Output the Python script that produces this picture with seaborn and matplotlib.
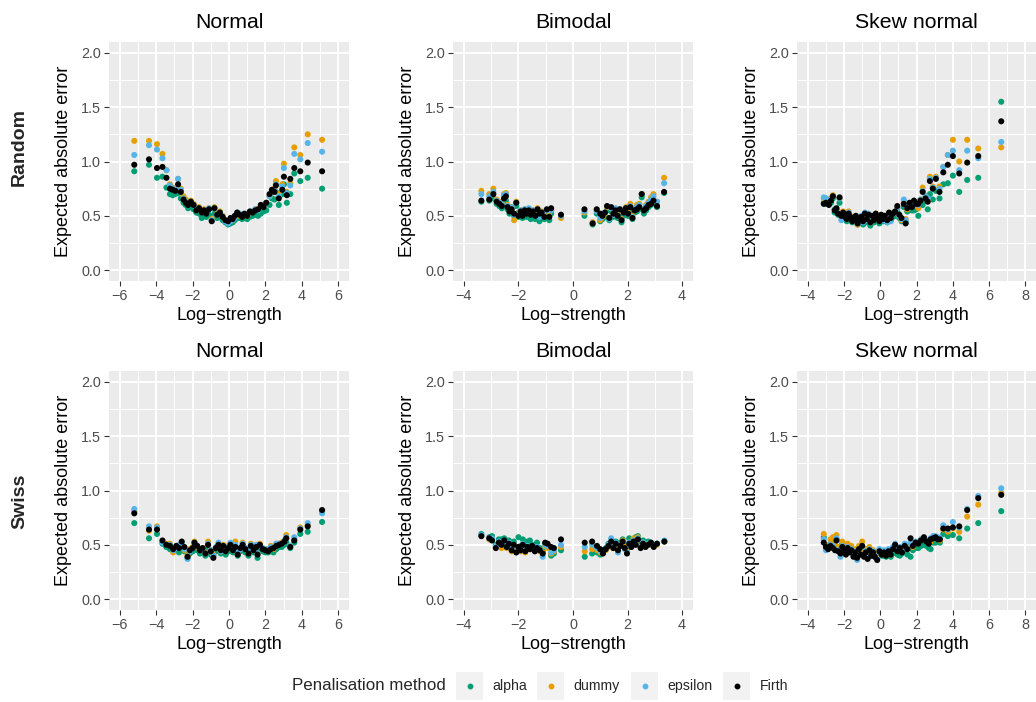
import numpy as np
import pandas as pd
import matplotlib
matplotlib.use("Agg")
import matplotlib.pyplot as plt
from matplotlib.lines import Line2D
from matplotlib.patches import Rectangle
from matplotlib.ticker import MultipleLocator, FormatStrFormatter
import seaborn as sns

methods = ["alpha", "dummy", "epsilon", "Firth"]
colours = ["#009E73", "#E69F00", "#56B4E9", "#000000"]
dists = ["Normal", "Bimodal", "Skew normal"]
designs = ["Random", "Swiss"]

# Random / Normal
rn_x = [-5.21, -4.40, -3.96, -3.66, -3.44, -3.25, -3.10, -2.95, -2.80, -2.65,
        -2.50, -2.38, -2.25, -2.10, -1.95, -1.80, -1.65, -1.50, -1.38, -1.25,
        -1.10, -0.95, -0.80, -0.65, -0.50, -0.35, -0.20, -0.05, 0.08, 0.20,
        0.32, 0.45, 0.58, 0.72, 0.85, 1.00, 1.15, 1.30, 1.45, 1.60,
        1.75, 1.90, 2.05, 2.23, 2.36, 2.50, 2.58, 2.74, 2.93, 3.02,
        3.18, 3.37, 3.59, 3.92, 4.33, 5.12]
rn_firth = [0.97, 1.02, 0.94, 0.95, 0.85, 0.75, 0.74, 0.73, 0.79, 0.72,
            0.65, 0.62, 0.60, 0.63, 0.60, 0.55, 0.57, 0.53, 0.55, 0.52,
            0.56, 0.45, 0.57, 0.51, 0.53, 0.49, 0.46, 0.45, 0.48, 0.47,
            0.50, 0.53, 0.51, 0.49, 0.52, 0.50, 0.54, 0.53, 0.55, 0.56,
            0.60, 0.58, 0.62, 0.70, 0.74, 0.72, 0.78, 0.66, 0.74, 0.86,
            0.69, 0.84, 0.94, 0.91, 0.99, 0.91]
rn_alpha = [0.91, 0.97, 0.85, 0.86, 0.76, 0.70, 0.69, 0.70, 0.71, 0.66,
            0.62, 0.60, 0.57, 0.58, 0.56, 0.53, 0.52, 0.48, 0.50, 0.49,
            0.51, 0.46, 0.52, 0.48, 0.49, 0.46, 0.44, 0.42, 0.43, 0.44,
            0.46, 0.48, 0.48, 0.47, 0.48, 0.47, 0.49, 0.50, 0.51, 0.50,
            0.52, 0.54, 0.55, 0.60, 0.66, 0.65, 0.72, 0.60, 0.70, 0.79,
            0.62, 0.70, 0.89, 0.82, 0.85, 0.75]
rn_dummy = [1.19, 1.19, 1.16, 1.07, 0.92, 0.79, 0.76, 0.74, 0.84, 0.75,
            0.68, 0.65, 0.62, 0.64, 0.61, 0.57, 0.58, 0.55, 0.56, 0.54,
            0.57, 0.47, 0.58, 0.52, 0.54, 0.50, 0.46, 0.44, 0.46, 0.46,
            0.49, 0.52, 0.50, 0.50, 0.51, 0.50, 0.53, 0.54, 0.56, 0.56,
            0.59, 0.60, 0.62, 0.68, 0.73, 0.75, 0.82, 0.70, 0.79, 0.98,
            0.72, 0.80, 1.13, 1.06, 1.25, 1.20]
rn_eps = [1.06, 1.15, 1.11, 1.03, 0.92, 0.78, 0.75, 0.74, 0.84, 0.74,
          0.66, 0.63, 0.61, 0.63, 0.60, 0.56, 0.57, 0.53, 0.55, 0.53,
          0.57, 0.46, 0.57, 0.51, 0.53, 0.49, 0.45, 0.43, 0.45, 0.46,
          0.48, 0.53, 0.52, 0.50, 0.51, 0.51, 0.54, 0.54, 0.56, 0.55,
          0.60, 0.59, 0.62, 0.68, 0.72, 0.73, 0.79, 0.68, 0.77, 0.94,
          0.71, 0.78, 1.07, 1.02, 1.17, 1.09]

# Random / Bimodal
rb_x = [-3.36, -3.07, -2.92, -2.80, -2.70, -2.61, -2.53, -2.46, -2.40, -2.33,
        -2.25, -2.16, -2.08, -2.00, -1.92, -1.85, -1.77, -1.70, -1.62, -1.55,
        -1.47, -1.38, -1.30, -1.23, -1.15, -1.05, -0.96, -0.87, -0.80, -0.44,
        0.42, 0.72, 0.87, 1.00, 1.08, 1.17, 1.25, 1.33, 1.40, 1.48,
        1.56, 1.64, 1.72, 1.78, 1.86, 1.94, 2.02, 2.10, 2.18, 2.26,
        2.34, 2.43, 2.52, 2.60, 2.68, 2.77, 2.86, 2.95, 3.08, 3.34]
rb_firth = [0.64, 0.65, 0.70, 0.63, 0.61, 0.59, 0.66, 0.68, 0.58, 0.54,
            0.56, 0.52, 0.62, 0.50, 0.54, 0.50, 0.55, 0.52, 0.55, 0.51,
            0.54, 0.50, 0.56, 0.52, 0.53, 0.49, 0.56, 0.49, 0.57, 0.51,
            0.56, 0.43, 0.56, 0.52, 0.50, 0.53, 0.59, 0.48, 0.58, 0.52,
            0.55, 0.50, 0.56, 0.46, 0.53, 0.57, 0.52, 0.58, 0.48, 0.55,
            0.56, 0.58, 0.70, 0.55, 0.57, 0.60, 0.61, 0.64, 0.59, 0.72]
rb_alpha = [0.63, 0.64, 0.66, 0.61, 0.59, 0.57, 0.63, 0.64, 0.56, 0.52,
            0.54, 0.50, 0.59, 0.49, 0.51, 0.48, 0.52, 0.49, 0.51, 0.47,
            0.50, 0.47, 0.52, 0.45, 0.49, 0.47, 0.52, 0.46, 0.52, 0.49,
            0.50, 0.42, 0.52, 0.45, 0.47, 0.49, 0.55, 0.46, 0.54, 0.49,
            0.52, 0.48, 0.52, 0.44, 0.50, 0.54, 0.50, 0.55, 0.47, 0.53,
            0.54, 0.56, 0.67, 0.52, 0.55, 0.58, 0.60, 0.62, 0.58, 0.71]
rb_dummy = [0.73, 0.70, 0.75, 0.65, 0.63, 0.62, 0.70, 0.71, 0.60, 0.57,
            0.58, 0.46, 0.63, 0.53, 0.55, 0.51, 0.56, 0.53, 0.56, 0.52,
            0.55, 0.51, 0.57, 0.50, 0.54, 0.50, 0.55, 0.50, 0.55, 0.48,
            0.53, 0.44, 0.55, 0.46, 0.49, 0.52, 0.58, 0.48, 0.57, 0.52,
            0.56, 0.51, 0.55, 0.47, 0.54, 0.58, 0.53, 0.61, 0.50, 0.57,
            0.60, 0.61, 0.70, 0.56, 0.60, 0.63, 0.67, 0.70, 0.63, 0.85]
rb_eps = [0.70, 0.68, 0.72, 0.64, 0.62, 0.61, 0.69, 0.70, 0.59, 0.56,
          0.58, 0.51, 0.62, 0.52, 0.55, 0.51, 0.56, 0.53, 0.57, 0.52,
          0.55, 0.50, 0.56, 0.49, 0.53, 0.49, 0.55, 0.49, 0.55, 0.50,
          0.54, 0.43, 0.54, 0.48, 0.50, 0.53, 0.59, 0.47, 0.57, 0.51,
          0.57, 0.50, 0.56, 0.46, 0.53, 0.57, 0.52, 0.59, 0.49, 0.56,
          0.58, 0.60, 0.70, 0.56, 0.59, 0.62, 0.65, 0.68, 0.63, 0.80]

# Random / Skew normal
rs_x = [-3.12, -3.00, -2.84, -2.72, -2.62, -2.52, -2.42, -2.33, -2.25, -2.15,
        -2.05, -1.95, -1.85, -1.75, -1.65, -1.55, -1.45, -1.35, -1.25, -1.15,
        -1.05, -0.95, -0.85, -0.75, -0.65, -0.55, -0.45, -0.35, -0.25, -0.15,
        -0.05, 0.05, 0.15, 0.25, 0.38, 0.48, 0.58, 0.70, 0.82, 0.94,
        1.05, 1.17, 1.30, 1.40, 1.49, 1.62, 1.75, 1.86, 1.98, 2.10,
        2.22, 2.34, 2.50, 2.62, 2.74, 2.90, 3.07, 3.27, 3.48, 3.73,
        4.01, 4.36, 4.80, 5.41, 6.68]
rs_firth = [0.61, 0.62, 0.60, 0.64, 0.68, 0.55, 0.57, 0.52, 0.67, 0.50,
            0.53, 0.49, 0.47, 0.52, 0.49, 0.45, 0.47, 0.50, 0.43, 0.46,
            0.49, 0.45, 0.52, 0.47, 0.51, 0.44, 0.50, 0.46, 0.52, 0.48,
            0.45, 0.51, 0.47, 0.50, 0.46, 0.53, 0.48, 0.52, 0.54, 0.59,
            0.51, 0.48, 0.61, 0.43, 0.57, 0.62, 0.58, 0.64, 0.61, 0.61,
            0.64, 0.72, 0.66, 0.63, 0.82, 0.75, 0.84, 0.72, 0.90, 0.97,
            1.05, 0.89, 0.99, 1.05, 1.37]
rs_alpha = [0.62, 0.61, 0.61, 0.62, 0.66, 0.53, 0.53, 0.51, 0.62, 0.49,
            0.50, 0.48, 0.45, 0.50, 0.47, 0.44, 0.45, 0.47, 0.42, 0.44,
            0.46, 0.42, 0.50, 0.44, 0.48, 0.41, 0.47, 0.44, 0.49, 0.46,
            0.43, 0.48, 0.45, 0.47, 0.44, 0.49, 0.46, 0.49, 0.50, 0.54,
            0.48, 0.45, 0.58, 0.44, 0.54, 0.59, 0.55, 0.55, 0.56, 0.50,
            0.60, 0.60, 0.64, 0.56, 0.70, 0.65, 0.73, 0.66, 0.79, 0.80,
            0.87, 0.72, 0.83, 0.85, 1.55]
rs_dummy = [0.66, 0.66, 0.62, 0.66, 0.69, 0.56, 0.55, 0.54, 0.66, 0.51,
            0.54, 0.50, 0.48, 0.54, 0.50, 0.47, 0.48, 0.50, 0.42, 0.47,
            0.49, 0.46, 0.52, 0.47, 0.50, 0.44, 0.49, 0.47, 0.52, 0.48,
            0.45, 0.50, 0.47, 0.50, 0.46, 0.52, 0.48, 0.53, 0.53, 0.57,
            0.50, 0.46, 0.63, 0.47, 0.56, 0.61, 0.59, 0.62, 0.60, 0.57,
            0.65, 0.76, 0.68, 0.64, 0.86, 0.77, 0.86, 0.77, 0.95, 1.06,
            1.20, 1.00, 1.20, 1.12, 1.13]
rs_eps = [0.67, 0.66, 0.63, 0.65, 0.68, 0.56, 0.56, 0.53, 0.66, 0.46,
          0.52, 0.50, 0.47, 0.53, 0.49, 0.46, 0.46, 0.49, 0.43, 0.45,
          0.50, 0.44, 0.53, 0.46, 0.52, 0.44, 0.49, 0.46, 0.51, 0.47,
          0.45, 0.50, 0.46, 0.50, 0.44, 0.52, 0.45, 0.52, 0.53, 0.57,
          0.50, 0.47, 0.65, 0.46, 0.58, 0.62, 0.58, 0.63, 0.62, 0.60,
          0.65, 0.73, 0.68, 0.66, 0.84, 0.76, 0.85, 0.75, 0.95, 1.06,
          1.10, 0.92, 1.10, 1.03, 1.18]

# Swiss / Normal
sn_x = [-5.21, -4.40, -3.96, -3.66, -3.45, -3.25, -3.07, -2.90, -2.75, -2.60,
        -2.45, -2.28, -2.15, -2.00, -1.90, -1.75, -1.60, -1.45, -1.30, -1.15,
        -1.00, -0.86, -0.72, -0.58, -0.45, -0.32, -0.18, -0.05, 0.08, 0.22,
        0.35, 0.48, 0.62, 0.75, 0.90, 1.07, 1.20, 1.35, 1.50, 1.57,
        1.70, 1.85, 2.00, 2.15, 2.30, 2.45, 2.60, 2.75, 2.90, 3.05,
        3.15, 3.37, 3.59, 3.92, 4.33, 5.12]
sn_firth = [0.79, 0.64, 0.64, 0.54, 0.50, 0.49, 0.46, 0.49, 0.47, 0.53,
            0.48, 0.39, 0.45, 0.47, 0.52, 0.49, 0.45, 0.47, 0.42, 0.50,
            0.44, 0.38, 0.47, 0.50, 0.45, 0.49, 0.44, 0.47, 0.50, 0.45,
            0.48, 0.41, 0.47, 0.50, 0.46, 0.42, 0.49, 0.45, 0.48, 0.41,
            0.50, 0.46, 0.45, 0.44, 0.46, 0.47, 0.49, 0.50, 0.51, 0.53,
            0.56, 0.48, 0.54, 0.64, 0.67, 0.82]
sn_alpha = [0.70, 0.56, 0.60, 0.51, 0.48, 0.46, 0.44, 0.45, 0.43, 0.46,
            0.44, 0.38, 0.42, 0.44, 0.48, 0.45, 0.42, 0.44, 0.40, 0.46,
            0.41, 0.40, 0.44, 0.47, 0.42, 0.46, 0.41, 0.44, 0.47, 0.43,
            0.45, 0.40, 0.44, 0.47, 0.43, 0.40, 0.46, 0.43, 0.45, 0.38,
            0.46, 0.44, 0.43, 0.43, 0.44, 0.43, 0.46, 0.48, 0.48, 0.50,
            0.52, 0.47, 0.52, 0.60, 0.62, 0.71]
sn_dummy = [0.81, 0.63, 0.67, 0.53, 0.51, 0.51, 0.43, 0.48, 0.49, 0.51,
            0.45, 0.40, 0.46, 0.48, 0.53, 0.48, 0.46, 0.47, 0.43, 0.53,
            0.45, 0.41, 0.47, 0.50, 0.44, 0.50, 0.44, 0.49, 0.51, 0.47,
            0.53, 0.42, 0.46, 0.52, 0.47, 0.43, 0.51, 0.46, 0.49, 0.42,
            0.51, 0.47, 0.46, 0.46, 0.49, 0.46, 0.51, 0.51, 0.52, 0.54,
            0.59, 0.49, 0.55, 0.66, 0.68, 0.81]
sn_eps = [0.83, 0.67, 0.66, 0.52, 0.50, 0.50, 0.45, 0.47, 0.50, 0.52,
          0.46, 0.37, 0.44, 0.47, 0.52, 0.49, 0.46, 0.46, 0.42, 0.51,
          0.45, 0.40, 0.48, 0.52, 0.44, 0.49, 0.44, 0.48, 0.52, 0.46,
          0.50, 0.43, 0.46, 0.51, 0.47, 0.44, 0.50, 0.46, 0.50, 0.42,
          0.49, 0.47, 0.46, 0.45, 0.48, 0.47, 0.51, 0.51, 0.51, 0.54,
          0.57, 0.49, 0.57, 0.65, 0.70, 0.79]

# Swiss / Bimodal
sb_x = [-3.36, -3.07, -2.97, -2.83, -2.72, -2.62, -2.52, -2.43, -2.35, -2.25,
        -2.17, -2.08, -2.00, -1.92, -1.84, -1.75, -1.67, -1.58, -1.50, -1.40,
        -1.32, -1.22, -1.11, -1.02, -0.93, -0.80, -0.70, -0.44,
        0.43, 0.70, 0.88, 1.00, 1.10, 1.20, 1.30, 1.40, 1.48, 1.57,
        1.65, 1.74, 1.82, 1.90, 1.98, 2.06, 2.14, 2.22, 2.30, 2.38,
        2.48, 2.57, 2.66, 2.76, 2.86, 2.96, 3.08, 3.35]
sb_firth = [0.58, 0.56, 0.54, 0.47, 0.52, 0.50, 0.54, 0.48, 0.51, 0.45,
            0.50, 0.43, 0.48, 0.45, 0.50, 0.44, 0.48, 0.46, 0.49, 0.44,
            0.47, 0.45, 0.42, 0.52, 0.51, 0.48, 0.47, 0.55,
            0.52, 0.53, 0.49, 0.46, 0.42, 0.46, 0.49, 0.53, 0.47, 0.51,
            0.45, 0.49, 0.53, 0.47, 0.42, 0.51, 0.48, 0.53, 0.50, 0.55,
            0.47, 0.51, 0.48, 0.50, 0.52, 0.48, 0.51, 0.53]
sb_alpha = [0.60, 0.57, 0.58, 0.50, 0.55, 0.55, 0.56, 0.51, 0.54, 0.48,
            0.53, 0.47, 0.57, 0.49, 0.55, 0.48, 0.53, 0.54, 0.50, 0.48,
            0.52, 0.47, 0.44, 0.50, 0.48, 0.40, 0.42, 0.45,
            0.39, 0.42, 0.43, 0.41, 0.43, 0.47, 0.51, 0.52, 0.49, 0.53,
            0.44, 0.52, 0.55, 0.50, 0.45, 0.56, 0.52, 0.55, 0.57, 0.58,
            0.50, 0.54, 0.52, 0.53, 0.51, 0.50, 0.51, 0.53]
sb_dummy = [0.58, 0.55, 0.55, 0.48, 0.51, 0.47, 0.52, 0.47, 0.50, 0.44,
            0.49, 0.44, 0.48, 0.44, 0.50, 0.43, 0.47, 0.46, 0.48, 0.45,
            0.47, 0.44, 0.43, 0.49, 0.47, 0.42, 0.44, 0.48,
            0.44, 0.46, 0.45, 0.43, 0.44, 0.45, 0.48, 0.51, 0.47, 0.50,
            0.44, 0.50, 0.54, 0.48, 0.44, 0.52, 0.50, 0.56, 0.52, 0.57,
            0.48, 0.52, 0.50, 0.51, 0.50, 0.49, 0.50, 0.53]
sb_eps = [0.59, 0.56, 0.56, 0.49, 0.53, 0.51, 0.53, 0.48, 0.52, 0.46,
          0.50, 0.43, 0.47, 0.45, 0.51, 0.45, 0.49, 0.47, 0.48, 0.45,
          0.48, 0.45, 0.39, 0.50, 0.49, 0.43, 0.45, 0.50,
          0.48, 0.50, 0.47, 0.44, 0.43, 0.46, 0.50, 0.56, 0.48, 0.52,
          0.43, 0.50, 0.53, 0.46, 0.43, 0.52, 0.49, 0.54, 0.51, 0.56,
          0.48, 0.52, 0.49, 0.51, 0.52, 0.49, 0.51, 0.54]

# Swiss / Skew normal
ss_x = [-3.12, -3.00, -2.88, -2.75, -2.62, -2.50, -2.42, -2.32, -2.20, -2.10,
        -2.00, -1.90, -1.80, -1.70, -1.60, -1.48, -1.38, -1.28, -1.18, -1.08,
        -1.00, -0.90, -0.80, -0.70, -0.60, -0.50, -0.40, -0.30, -0.17, -0.05,
        0.08, 0.20, 0.32, 0.45, 0.58, 0.70, 0.82, 0.95, 1.08, 1.20,
        1.35, 1.50, 1.67, 1.80, 1.95, 2.10, 2.25, 2.41, 2.55, 2.68,
        2.78, 2.92, 3.05, 3.18, 3.29, 3.48, 3.73, 4.01, 4.36, 4.80,
        5.41, 6.68]
ss_firth = [0.52, 0.48, 0.46, 0.49, 0.47, 0.45, 0.54, 0.44, 0.42, 0.48,
            0.45, 0.41, 0.47, 0.43, 0.45, 0.39, 0.43, 0.38, 0.46, 0.41,
            0.49, 0.39, 0.43, 0.37, 0.45, 0.40, 0.43, 0.39, 0.36, 0.44,
            0.41, 0.43, 0.40, 0.44, 0.41, 0.46, 0.50, 0.44, 0.47, 0.43,
            0.49, 0.46, 0.56, 0.49, 0.52, 0.51, 0.54, 0.57, 0.53, 0.51,
            0.55, 0.56, 0.57, 0.55, 0.55, 0.65, 0.65, 0.66, 0.67, 0.82,
            0.93, 0.96]
ss_alpha = [0.57, 0.47, 0.47, 0.51, 0.50, 0.48, 0.55, 0.46, 0.44, 0.51,
            0.48, 0.43, 0.49, 0.45, 0.47, 0.41, 0.45, 0.40, 0.47, 0.43,
            0.48, 0.41, 0.44, 0.39, 0.44, 0.40, 0.41, 0.39, 0.39, 0.41,
            0.40, 0.40, 0.39, 0.41, 0.39, 0.42, 0.45, 0.41, 0.40, 0.42,
            0.44, 0.41, 0.39, 0.45, 0.47, 0.47, 0.49, 0.50, 0.49, 0.47,
            0.46, 0.52, 0.52, 0.53, 0.52, 0.60, 0.58, 0.59, 0.56, 0.65,
            0.70, 0.81]
ss_dummy = [0.60, 0.50, 0.48, 0.55, 0.57, 0.52, 0.59, 0.48, 0.44, 0.53,
            0.50, 0.44, 0.51, 0.46, 0.49, 0.42, 0.46, 0.40, 0.49, 0.43,
            0.53, 0.41, 0.46, 0.39, 0.48, 0.42, 0.45, 0.41, 0.38, 0.45,
            0.42, 0.44, 0.41, 0.45, 0.41, 0.46, 0.49, 0.45, 0.47, 0.45,
            0.50, 0.47, 0.50, 0.48, 0.52, 0.53, 0.55, 0.56, 0.54, 0.52,
            0.53, 0.57, 0.56, 0.56, 0.54, 0.64, 0.62, 0.65, 0.62, 0.76,
            0.87, 0.98]
ss_eps = [0.55, 0.45, 0.47, 0.50, 0.49, 0.46, 0.56, 0.45, 0.39, 0.49,
          0.46, 0.42, 0.48, 0.44, 0.46, 0.40, 0.44, 0.36, 0.46, 0.41,
          0.49, 0.40, 0.44, 0.38, 0.46, 0.40, 0.44, 0.40, 0.37, 0.46,
          0.43, 0.45, 0.42, 0.46, 0.43, 0.48, 0.51, 0.46, 0.48, 0.44,
          0.51, 0.47, 0.52, 0.50, 0.53, 0.51, 0.55, 0.56, 0.54, 0.53,
          0.56, 0.58, 0.58, 0.57, 0.56, 0.68, 0.64, 0.71, 0.66, 0.83,
          0.95, 1.02]

panels = {
    ("Random", "Normal"): (rn_x, rn_alpha, rn_dummy, rn_eps, rn_firth),
    ("Random", "Bimodal"): (rb_x, rb_alpha, rb_dummy, rb_eps, rb_firth),
    ("Random", "Skew normal"): (rs_x, rs_alpha, rs_dummy, rs_eps, rs_firth),
    ("Swiss", "Normal"): (sn_x, sn_alpha, sn_dummy, sn_eps, sn_firth),
    ("Swiss", "Bimodal"): (sb_x, sb_alpha, sb_dummy, sb_eps, sb_firth),
    ("Swiss", "Skew normal"): (ss_x, ss_alpha, ss_dummy, ss_eps, ss_firth),
}

xlims = {"Normal": (-6.6, 6.6), "Bimodal": (-4.4, 4.4), "Skew normal": (-4.6, 8.6)}


def long_frame(x, *vals):
    frames = [pd.DataFrame({"strength": x, "error": v, "method": m})
              for m, v in zip(methods, vals)]
    return pd.concat(frames, ignore_index=True)


sns.set_theme(style="darkgrid", rc={"axes.facecolor": "#EBEBEB"})
plt.rcParams["font.family"] = ["Liberation Sans", "DejaVu Sans"]

W, H = 1036, 702
fig = plt.figure(figsize=(W / 100, H / 100), dpi=100)
palette = dict(zip(methods, colours))

col_left = [109, 453, 797]
col_width = [240, 240, 239]
row_top = [42, 371]
ph = 239

for r, design in enumerate(designs):
    for c, dist in enumerate(dists):
        ax = fig.add_axes([col_left[c] / W, 1 - (row_top[r] + ph) / H,
                           col_width[c] / W, ph / H])
        df = long_frame(*panels[(design, dist)])
        sns.scatterplot(data=df, x="strength", y="error", hue="method",
                        hue_order=methods, palette=palette, s=19,
                        linewidth=0, legend=False, ax=ax, zorder=3)
        ax.set_xlim(*xlims[dist])
        ax.set_ylim(-0.1, 2.1)
        ax.xaxis.set_major_locator(MultipleLocator(2))
        ax.xaxis.set_minor_locator(MultipleLocator(1))
        ax.yaxis.set_major_locator(MultipleLocator(0.5))
        ax.yaxis.set_minor_locator(MultipleLocator(0.25))
        ax.yaxis.set_major_formatter(FormatStrFormatter("%.1f"))
        ax.set_axisbelow(True)
        ax.grid(which="major", color="white", linewidth=1.4)
        ax.grid(which="minor", color="white", linewidth=0.7)
        for sp in ax.spines.values():
            sp.set_visible(False)
        ax.tick_params(which="major", length=3.3, width=0.8, color="#333333",
                       labelsize=10.4, labelcolor="#4D4D4D", pad=2.6,
                       bottom=True, left=True)
        ax.tick_params(which="minor", length=0)
        ax.set_title(dist, fontsize=15.3, pad=10, color="black")
        ax.set_xlabel("Log\u2212strength", fontsize=13, color="black")
        ax.set_ylabel("Expected absolute error", fontsize=13, color="black")
        ax.xaxis.set_label_coords(0.5, -0.108)
        ax.yaxis.set_label_coords(-0.155, 0.5)

fig.text(19.5 / W, 1 - 146.5 / H, "Random", rotation=90, fontsize=14,
         fontweight="bold", ha="center", va="center")
fig.text(19.5 / W, 1 - 501.5 / H, "Swiss", rotation=90, fontsize=14,
         fontweight="bold", ha="center", va="center")

# legend at the bottom, ggplot style
leg_y = 686
fig.text(292 / W, 1 - leg_y / H, "Penalisation method", fontsize=12.2,
         ha="left", va="center")
key_left = [456, 537, 631, 723]
label_left = [492, 573, 667, 760]
for m, kl, ll in zip(methods, key_left, label_left):
    fig.add_artist(Rectangle((kl / W, 1 - (leg_y + 14) / H), 27 / W, 28 / H,
                             transform=fig.transFigure, facecolor="#F2F2F2",
                             edgecolor="none"))
    fig.add_artist(Line2D([(kl + 13.5) / W], [1 - leg_y / H], marker="o",
                          markersize=3.2, color=palette[m], linestyle="none",
                          transform=fig.transFigure))
    fig.text(ll / W, 1 - leg_y / H, m, fontsize=10.2, ha="left", va="center")

fig.savefig("out.png", dpi=100, facecolor="white")
